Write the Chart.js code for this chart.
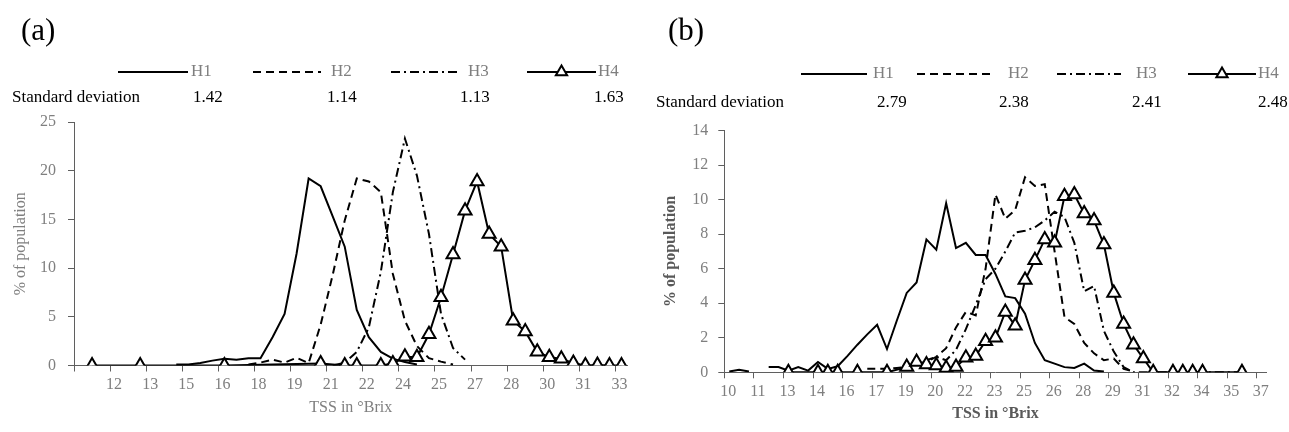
<!DOCTYPE html>
<html><head><meta charset="utf-8">
<script src="https://cdn.jsdelivr.net/npm/chart.js@4.4.0/dist/chart.umd.min.js"></script>
<style>
html,body{margin:0;padding:0;background:#fff;}
#wrap{position:relative;width:1289px;height:432px;overflow:hidden;background:#fff;}
canvas{position:absolute;top:0;}
</style></head><body>
<div id="wrap">
<canvas id="ca" width="645" height="432" style="left:0"></canvas>
<canvas id="cb" width="644" height="432" style="left:645px"></canvas>
</div>
<script>
// ---------- data ----------
const seriesNames = ['H1', 'H2', 'H3', 'H4'];
const sdA = ['1.42', '1.14', '1.13', '1.63'];
const sdB = ['2.79', '2.38', '2.41', '2.48'];

const xTicksA = [10.5, 12, 13.5, 15, 16.5, 18, 19.5, 21, 22.5, 24, 25.5, 27, 28.5, 30, 31.5, 33];
const xLabelsA = ['', '12', '13', '15', '16', '18', '19', '21', '22', '24', '25', '27', '28', '30', '31', '33'];
const yTicksA = [0, 5, 10, 15, 20, 25];

const xTicksB = [10, 11.5, 13, 14.5, 16, 17.5, 19, 20.5, 22, 23.5, 25, 26.5, 28, 29.5, 31, 32.5, 34, 35.5, 37];
const xLabelsB = ['10', '11', '13', '14', '16', '17', '19', '20', '22', '23', '25', '26', '28', '29', '31', '32', '34', '35', '37'];
const yTicksB = [0, 2, 4, 6, 8, 10, 12, 14];

// panel (a)
const aH1X = [14.75, 15.25, 15.75, 16.25, 16.75, 17.25, 17.75, 18.25, 18.75, 19.25, 19.75, 20.25, 20.75, 21.25, 21.75, 22.25, 22.75, 23.25, 23.75, 24.25, 24.75];
const aH1Y = [0.1, 0.1, 0.25, 0.5, 0.7, 0.6, 0.75, 0.75, 2.9, 5.3, 11.5, 19.2, 18.4, 15.3, 12.2, 5.7, 2.9, 1.4, 0.7, 0.35, 0.1];
const aH2X = [17.75, 18.25, 18.75, 19.25, 19.75, 20.25, 20.75, 21.25, 21.75, 22.25, 22.75, 23.25, 23.75, 24.25, 24.75, 25.25, 25.75, 26.25];
const aH2Y = [0.1, 0.3, 0.6, 0.3, 0.8, 0.25, 4.2, 9.3, 14.9, 19.2, 18.9, 17.8, 9.4, 4.6, 2.0, 0.75, 0.4, 0.1];
const aH3X = [21.25, 21.75, 22.25, 22.75, 23.25, 23.75, 24.25, 24.75, 25.25, 25.75, 26.25, 26.75];
const aH3Y = [0.0, 0.3, 1.4, 3.9, 9.6, 17.8, 23.3, 19.5, 13.5, 5.3, 1.8, 0.6];
const aH4X = [11.25, 13.25, 16.75, 20.75, 21.75, 22.25, 23.25, 23.75, 24.25, 24.75, 25.25, 25.75, 26.25, 26.75, 27.25, 27.75, 28.25, 28.75, 29.25, 29.75, 30.25, 30.75, 31.25, 31.75, 32.25, 32.75, 33.25];
const aH4Y = [0, 0, 0, 0.2, 0, 0, 0, 0.2, 0.9, 0.85, 3.2, 7.0, 11.4, 15.9, 18.9, 13.5, 12.2, 4.6, 3.5, 1.4, 0.85, 0.7, 0.25, 0, 0.05, 0, 0];

// panel (b)
const bH1X = [10.25, 10.75, 11.25, 11.75, 12.25, 12.75, 13.25, 13.75, 14.25, 14.75, 15.25, 15.75, 16.25, 16.75, 17.25, 17.75, 18.25, 18.75, 19.25, 19.75, 20.25, 20.75, 21.25, 21.75, 22.25, 22.75, 23.25, 23.75, 24.25, 24.75, 25.25, 25.75, 26.25, 26.75, 27.25, 27.75, 28.25, 28.75, 29.25];
const bH1Y = [0.05, 0.15, 0.05, null, 0.3, 0.3, 0.1, 0.3, 0.1, 0.6, 0.2, 0.35, 0.95, 1.6, 2.2, 2.75, 1.35, 3.0, 4.6, 5.2, 7.7, 7.1, 9.8, 7.2, 7.5, 6.8, 6.8, 5.7, 4.4, 4.3, 3.4, 1.7, 0.7, 0.5, 0.3, 0.25, 0.5, 0.1, 0.05];
const bH2X = [17.25, 17.75, 18.25, 18.75, 19.25, 19.75, 20.25, 20.75, 21.25, 21.75, 22.25, 22.75, 23.25, 23.75, 24.25, 24.75, 25.25, 25.75, 26.25, 26.75, 27.25, 27.75, 28.25, 28.75, 29.25, 29.75, 30.25, 30.75];
const bH2Y = [0.2, 0.2, 0.2, 0.25, 0.3, 0.5, 0.6, 0.9, 1.4, 2.6, 3.5, 3.3, 6.0, 10.3, 8.9, 9.4, 11.3, 10.8, 10.9, 7.0, 3.2, 2.8, 1.7, 1.1, 0.7, 0.8, 0.2, 0.05];
const bH3X = [19.25, 19.75, 20.25, 20.75, 21.25, 21.75, 22.25, 22.75, 23.25, 23.75, 24.25, 24.75, 25.25, 25.75, 26.25, 26.75, 27.25, 27.75, 28.25, 28.75, 29.25, 29.75, 30.25, 30.75, 31.25, 31.75, 32.25, 32.75, 33.25, 33.75, 34.25, 34.75, 35.25, 35.75, 36.25];
const bH3Y = [0.3, 0.5, 0.7, 0.9, 0.7, 1.3, 2.5, 3.9, 5.4, 6.0, 7.0, 8.1, 8.2, 8.4, 8.8, 9.3, 9.0, 7.5, 4.7, 5.0, 2.4, 1.2, 0.3, 0, 0, 0, 0, 0, 0, 0, 0, 0, 0, 0, 0];
const bH4X = [13.25, 14.75, 15.25, 15.75, 16.75, 18.25, 19.25, 19.75, 20.25, 20.75, 21.25, 21.75, 22.25, 22.75, 23.25, 23.75, 24.25, 24.75, 25.25, 25.75, 26.25, 26.75, 27.25, 27.75, 28.25, 28.75, 29.25, 29.75, 30.25, 30.75, 31.25, 31.75, 32.75, 33.25, 33.75, 34.25, 36.25];
const bH4Y = [0, 0, 0, 0, 0, 0, 0.3, 0.6, 0.45, 0.4, 0.25, 0.3, 0.85, 0.95, 1.8, 2.0, 3.5, 2.7, 5.35, 6.5, 7.7, 7.5, 10.2, 10.3, 9.2, 8.8, 7.4, 4.6, 2.8, 1.6, 0.8, 0, 0, 0, 0, 0, 0];

// ---------- helpers ----------
const SERIF = '"Liberation Serif", "Times New Roman", serif';
const pts = (xs, ys) => xs.map((x, i) => ({ x: x, y: ys[i] }));
const DASH = { H1: [], H2: [8, 5], H3: [9, 4, 2, 4], H4: [] };

function datasets(list) {
  return list.map((d, i) => {
    const name = seriesNames[i];
    const isTri = name === 'H4';
    return {
      label: name,
      data: pts(d[0], d[1]),
      borderColor: '#000',
      borderWidth: 2,
      borderDash: DASH[name],
      tension: 0,
      spanGaps: false,
      fill: false,
      order: isTri ? 0 : i + 1,
      pointStyle: 'triangle',
      pointRadius: isTri ? 7.5 : 0,
      pointHoverRadius: isTri ? 7.5 : 0,
      pointBorderWidth: 2,
      pointBackgroundColor: '#fff',
      pointBorderColor: '#000'
    };
  });
}

const decor = {
  id: 'decor',
  afterDraw(chart, args, o) {
    const ctx = chart.ctx;
    ctx.save();
    ctx.fillStyle = '#000';
    ctx.textAlign = 'left';
    ctx.textBaseline = 'middle';
    ctx.font = o.labelFont;
    ctx.fillText(o.label, o.labelX, o.labelY);
    // legend
    chart.data.datasets.forEach((ds, i) => {
      const it = o.legend[i];
      ctx.strokeStyle = '#000';
      ctx.lineWidth = 2;
      ctx.setLineDash(ds.borderDash || []);
      ctx.beginPath();
      ctx.moveTo(it[0], o.legendY);
      ctx.lineTo(it[1], o.legendY);
      ctx.stroke();
      ctx.setLineDash([]);
      if (ds.pointRadius > 0) {
        ctx.fillStyle = '#fff';
        ctx.strokeStyle = '#000';
        ctx.lineWidth = 2;
        Chart.helpers.drawPoint(ctx, { pointStyle: 'triangle', radius: 6.5, borderWidth: 2 }, (it[0] + it[1]) / 2, o.legendY);
      }
      ctx.fillStyle = '#7f7f7f';
      ctx.font = o.textFont;
      ctx.textBaseline = 'middle';
      ctx.fillText(ds.label, it[2], o.legendY);
    });
    // standard deviation row
    ctx.fillStyle = '#000';
    ctx.font = o.textFont;
    ctx.fillText('Standard deviation', o.sdX, o.sdY);
    o.sd.forEach((v, i) => ctx.fillText(v, o.sdPos[i], o.sdY));
    ctx.restore();
  }
};

function makeChart(id, p) {
  return new Chart(document.getElementById(id), {
    type: 'line',
    data: { datasets: datasets(p.series) },
    plugins: [decor],
    options: {
      responsive: false,
      animation: false,
      events: [],
      layout: { padding: { left: 0, top: p.top, right: p.right, bottom: p.bottom } },
      plugins: {
        legend: { display: false },
        tooltip: { enabled: false },
        decor: p.decor
      },
      scales: {
        x: {
          type: 'linear',
          min: p.xMin, max: p.xMax,
          afterBuildTicks: s => { s.ticks = p.xTicks.map(v => ({ value: v })); },
          afterFit: s => { s.height = p.xHeight; },
          ticks: {
            autoSkip: false, maxRotation: 0, minRotation: 0,
            color: '#7f7f7f', padding: 4, labelOffset: 4,
            font: { family: SERIF, size: 16 },
            callback: (v, i) => p.xLabels[i]
          },
          grid: { drawOnChartArea: false, drawTicks: true, tickLength: 6, color: '#5f5f5f', lineWidth: 1 },
          border: { display: true, color: '#5f5f5f', width: 1 },
          title: {
            display: true, text: 'TSS in °Brix', color: p.titleColor,
            font: { family: SERIF, size: 16, weight: p.titleWeight },
            padding: { top: 0, bottom: 0 }
          }
        },
        y: {
          type: 'linear',
          min: p.yTicks[0], max: p.yTicks[p.yTicks.length - 1],
          afterBuildTicks: s => { s.ticks = p.yTicks.map(v => ({ value: v })); },
          afterFit: s => { s.width = p.yWidth; },
          ticks: {
            color: '#7f7f7f', padding: p.yPad,
            font: { family: SERIF, size: 16 }
          },
          grid: { drawOnChartArea: false, drawTicks: true, tickLength: 6, color: '#5f5f5f', lineWidth: 1 },
          border: { display: true, color: '#5f5f5f', width: 1 },
          title: {
            display: true, text: '% of population', color: p.titleColor,
            font: { family: SERIF, size: 16, weight: p.titleWeight },
            padding: { top: p.yTitlePad, bottom: 0 }
          }
        }
      }
    }
  });
}

makeChart('ca', {
  series: [[aH1X, aH1Y], [aH2X, aH2Y], [aH3X, aH3Y], [aH4X, aH4Y]],
  xMin: 10.5, xMax: 33.5, xTicks: xTicksA, xLabels: xLabelsA, yTicks: yTicksA,
  top: 122, right: 17.5, bottom: 15, xHeight: 51.5, yWidth: 74, yPad: 12, yTitlePad: 11,
  titleColor: '#7f7f7f', titleWeight: 'normal',
  decor: {
    label: '(a)', labelFont: '31px ' + SERIF, labelX: 21, labelY: 32,
    legendY: 72, textFont: '17px ' + SERIF,
    legend: [[118, 188, 191], [253, 321, 331], [391, 460, 468], [527, 596, 598]],
    sd: sdA, sdX: 12, sdY: 98, sdPos: [193, 327, 460, 594]
  }
});

makeChart('cb', {
  series: [[bH1X, bH1Y], [bH2X, bH2Y], [bH3X, bH3Y], [bH4X, bH4Y]],
  xMin: 10, xMax: 37.5, xTicks: xTicksB, xLabels: xLabelsB, yTicks: yTicksB,
  top: 130.7, right: 22.4, bottom: 9, xHeight: 50.7, yWidth: 79.3, yPad: 10, yTitlePad: 16,
  titleColor: '#595959', titleWeight: 'bold',
  decor: {
    label: '(b)', labelFont: '31px ' + SERIF, labelX: 23, labelY: 32,
    legendY: 74, textFont: '17px ' + SERIF,
    legend: [[156, 222, 228], [272, 348, 363], [412, 476, 491], [543, 611, 613]],
    sd: sdB, sdX: 11, sdY: 103, sdPos: [232, 354, 487, 613]
  }
});
</script>
</body></html>
